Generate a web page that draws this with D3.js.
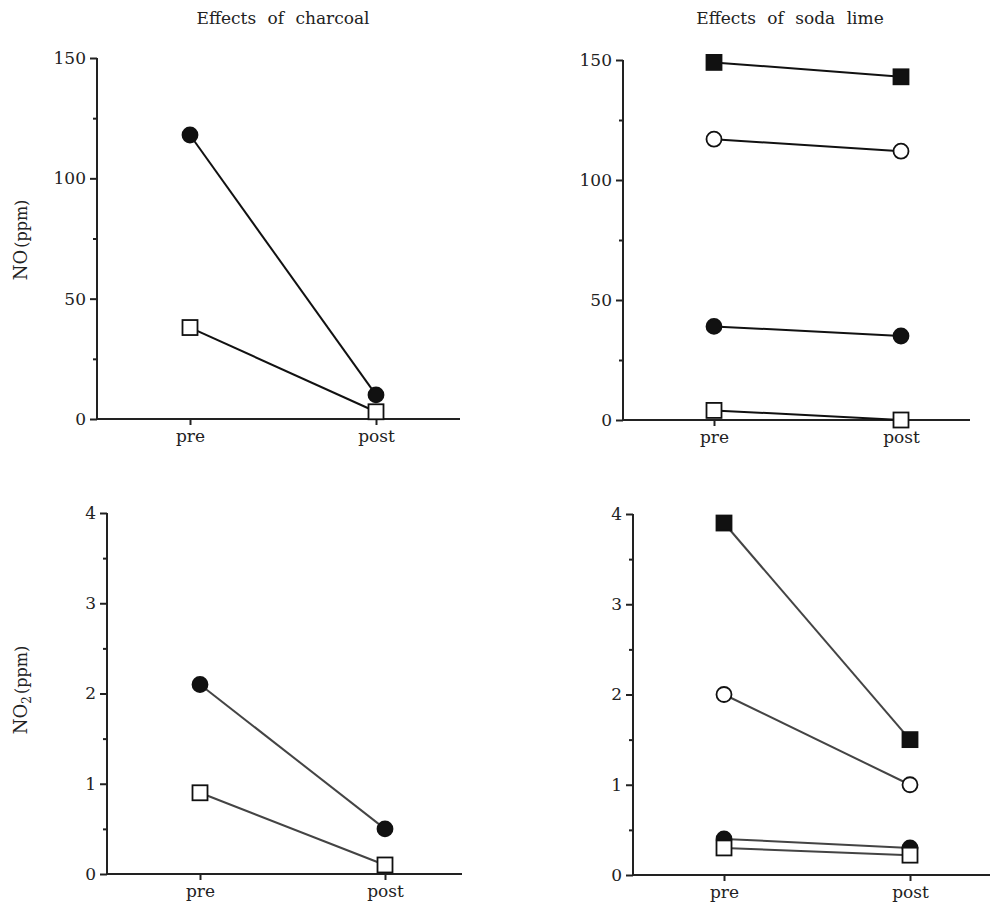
<!DOCTYPE html>
<html><head><meta charset="utf-8">
<script src="https://cdn.jsdelivr.net/npm/d3@7"></script>
<style>body{margin:0;background:#fff}svg{display:block}text{font-family:"DejaVu Serif",serif;fill:#222}</style>
</head><body>
<svg id="c" width="999" height="906"></svg>
<script>
const categories = ["pre", "post"];
const titles = ["Effects of charcoal", "Effects of soda lime"];
const noTicks = [0, 50, 100, 150];
const no2Ticks = [0, 1, 2, 3, 4];
// series: [pre, post]
const charcoalNO_filledCircle = [118, 10];
const charcoalNO_openSquare = [38, 3];
const sodaNO_filledSquare = [149, 143];
const sodaNO_openCircle = [117, 112];
const sodaNO_filledCircle = [39, 35];
const sodaNO_openSquare = [4, 0];
const charcoalNO2_filledCircle = [2.1, 0.5];
const charcoalNO2_openSquare = [0.9, 0.1];
const sodaNO2_filledSquare = [3.9, 1.5];
const sodaNO2_openCircle = [2.0, 1.0];
const sodaNO2_filledCircle = [0.4, 0.3];
const sodaNO2_openSquare = [0.3, 0.22];

const svg = d3.select("#c");

const panels = [
  {ax:97, xEnd:460, yTop:58, yBot:419, pre:190, post:376, max:150, ticks:noTicks, minor:25, col:"#111",
   series:[{v:charcoalNO_filledCircle,s:"circle",f:true},{v:charcoalNO_openSquare,s:"square",f:false}]},
  {ax:623, xEnd:970, yTop:60, yBot:420, pre:714, post:901, max:150, ticks:noTicks, minor:25, col:"#111",
   series:[{v:sodaNO_openSquare,s:"square",f:false},{v:sodaNO_filledCircle,s:"circle",f:true},{v:sodaNO_openCircle,s:"circle",f:false},{v:sodaNO_filledSquare,s:"square",f:true}]},
  {ax:107, xEnd:462, yTop:513, yBot:874, pre:200, post:385, max:4, ticks:no2Ticks, minor:0.5, col:"#444",
   series:[{v:charcoalNO2_filledCircle,s:"circle",f:true},{v:charcoalNO2_openSquare,s:"square",f:false}]},
  {ax:633, xEnd:990, yTop:514, yBot:875, pre:724, post:910, max:4, ticks:no2Ticks, minor:0.5, col:"#444",
   series:[{v:sodaNO2_filledCircle,s:"circle",f:true},{v:sodaNO2_openSquare,s:"square",f:false},{v:sodaNO2_openCircle,s:"circle",f:false},{v:sodaNO2_filledSquare,s:"square",f:true}]}
];

panels.forEach(p => {
  const y = d3.scaleLinear().domain([0, p.max]).range([p.yBot, p.yTop]);
  const x = d3.scalePoint().domain(categories).range([p.pre, p.post]);
  const g = svg.append("g");
  const ya = g.append("g").attr("transform", `translate(${p.ax},0)`)
    .call(d3.axisLeft(y).tickValues(p.ticks).tickSize(7).tickPadding(4).tickFormat(d3.format("d")));
  ya.select(".domain").attr("d", `M0,${p.yTop}V${p.yBot}`);
  const minorVals = d3.range(p.minor, p.max, p.minor * 2);
  g.append("g").attr("transform", `translate(${p.ax},0)`)
    .call(d3.axisLeft(y).tickValues(minorVals).tickSize(4).tickFormat(""))
    .select(".domain").remove();
  const xa = g.append("g").attr("transform", `translate(0,${p.yBot})`)
    .call(d3.axisBottom(x).tickSize(6).tickPadding(5));
  xa.select(".domain").attr("d", `M${p.ax},0H${p.xEnd}`);
  g.selectAll(".tick text").attr("font-size", 17).attr("font-family", "DejaVu Serif").attr("fill", "#222");
  g.selectAll(".tick line, .domain").attr("stroke", "#222").attr("stroke-width", 2);
  p.series.forEach(s => {
    const pts = categories.map((c, i) => [x(c), y(s.v[i])]);
    g.append("path").attr("d", d3.line()(pts)).attr("fill", "none").attr("stroke", p.col).attr("stroke-width", 2);
  });
  p.series.forEach(s => {
    categories.forEach((c, i) => {
      const cx = x(c), cy = y(s.v[i]);
      const fill = s.f ? "#111" : "#fff";
      if (s.s === "circle") {
        g.append("circle").attr("cx", cx).attr("cy", cy).attr("r", 7.5).attr("fill", fill).attr("stroke", "#111").attr("stroke-width", 1.8);
      } else {
        g.append("rect").attr("x", cx - 7.5).attr("y", cy - 7.5).attr("width", 15).attr("height", 15).attr("fill", fill).attr("stroke", "#111").attr("stroke-width", 1.8);
      }
    });
  });
});

svg.append("text").attr("x", 283).attr("y", 24).attr("text-anchor", "middle").attr("font-size", 17).attr("word-spacing", 6).text(titles[0]);
svg.append("text").attr("x", 790).attr("y", 24).attr("text-anchor", "middle").attr("font-size", 17).attr("word-spacing", 6).text(titles[1]);

const l1 = svg.append("text").attr("transform", "translate(27,240) rotate(-90)").attr("text-anchor", "middle").attr("font-size", 18);
l1.append("tspan").text("NO");
l1.append("tspan").attr("font-size", 16).attr("dx", 2).text("(ppm)");
const l2 = svg.append("text").attr("transform", "translate(27,690) rotate(-90)").attr("text-anchor", "middle").attr("font-size", 18);
l2.append("tspan").text("NO");
l2.append("tspan").attr("font-size", 12).attr("dy", 4).text("2");
l2.append("tspan").attr("font-size", 16).attr("dy", -4).attr("dx", 2).text("(ppm)");
</script>
</body></html>
